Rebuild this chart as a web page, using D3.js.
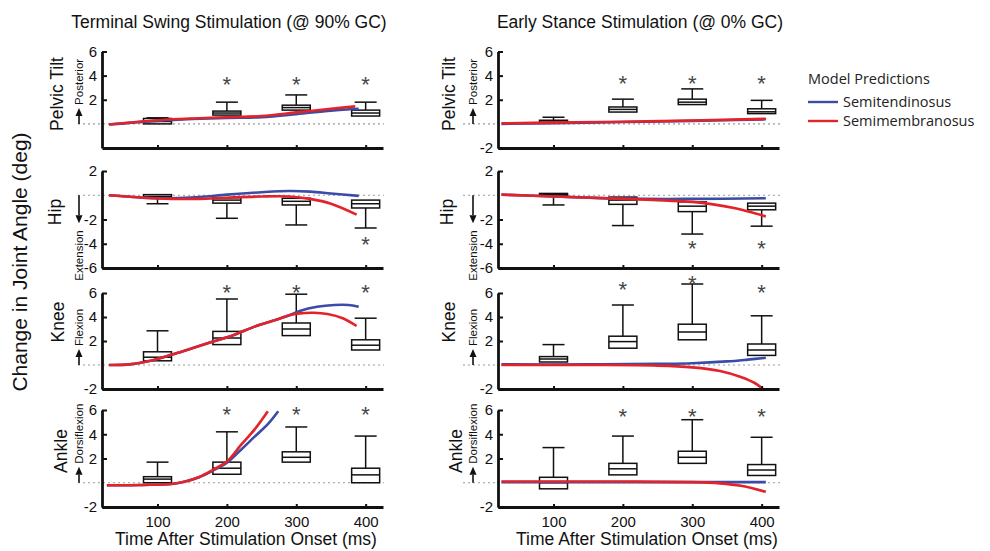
<!DOCTYPE html>
<html>
<head>
<meta charset="utf-8">
<script src="https://cdn.jsdelivr.net/npm/d3@7"></script>
<style>
  body { margin: 0; background: #fff; }
  svg { display: block; font-family: Arial, "Liberation Sans", sans-serif; }
</style>
</head>
<body>
<div id="chart"></div>
<script>
const times = [100, 200, 300, 400];
const joints = ['Pelvic Tilt', 'Hip', 'Knee', 'Ankle'];
const directions = ['Posterior', 'Extension', 'Flexion', 'Dorsiflexion'];
const columnTitles = ['Terminal Swing Stimulation (@ 90% GC)', 'Early Stance Stimulation (@ 0% GC)'];
const seriesNames = ['Semitendinosus', 'Semimembranosus'];
const yDomains = [[-2, 6], [-6, 2], [-2, 6], [-2, 6]];
const swingYTicks = [[2, 4, 6], [-6, -4, -2, 2], [-2, 2, 4, 6], [-2, 2, 4, 6]];
const stanceYTicks = [[-2, 2, 4, 6], [-6, -4, -2, 2], [-2, 2, 4, 6], [-2, 2, 4, 6]];

// experimental boxes, per joint, per time: [q1, median, q3, whisker end]
const swingBoxes = [
  [[0.0, 0.2, 0.45, 0.5], [0.73, 0.9, 1.06, 1.8], [1.14, 1.35, 1.55, 2.4], [0.65, 0.9, 1.14, 1.8]],
  [[-0.25, -0.1, 0.05, -0.7], [-0.65, -0.4, -0.2, -1.9], [-0.8, -0.5, -0.25, -2.45], [-1.05, -0.7, -0.4, -2.7]],
  [[0.35, 0.65, 1.1, 2.85], [1.7, 2.25, 2.8, 5.5], [2.45, 3.0, 3.5, 5.9], [1.25, 1.65, 2.1, 3.9]],
  [[0.0, 0.3, 0.5, 1.7], [0.7, 1.2, 1.7, 4.2], [1.7, 2.1, 2.55, 4.6], [0.0, 0.65, 1.2, 3.85]]
];
const stanceBoxes = [
  [[0.05, 0.15, 0.3, 0.55], [0.98, 1.2, 1.4, 2.05], [1.6, 1.8, 2.05, 2.9], [0.85, 1.0, 1.25, 1.95]],
  [[-0.05, 0.05, 0.15, -0.8], [-0.75, -0.4, -0.15, -2.5], [-1.35, -0.9, -0.55, -3.2], [-1.2, -0.9, -0.65, -2.55]],
  [[0.25, 0.5, 0.7, 1.7], [1.4, 1.95, 2.4, 5.0], [2.1, 2.75, 3.4, 6.75], [0.8, 1.25, 1.75, 4.1]],
  [[-0.5, 0.0, 0.45, 2.9], [0.65, 1.15, 1.6, 3.85], [1.6, 2.1, 2.6, 5.2], [0.6, 1.05, 1.5, 3.75]]
];

// significance markers: [time, value]
const swingStars = [
  [[200, 3.7], [300, 3.7], [400, 3.7]],
  [[400, -3.6]],
  [[200, 6.5], [300, 6.5], [400, 6.5]],
  [[200, 6.05], [300, 6.05], [400, 6.05]]
];
const stanceStars = [
  [[200, 3.8], [300, 3.8], [400, 3.8]],
  [[300, -3.95], [400, -3.95]],
  [[200, 6.75], [300, 7.2], [400, 6.5]],
  [[200, 5.9], [300, 5.9], [400, 5.9]]
];

// model predictions: [time ms, change deg]
const swingST = [
  [[30, -0.05], [100, 0.25], [150, 0.4], [200, 0.5], [250, 0.55], [300, 0.8], [350, 1.1], [390, 1.25]],
  [[30, 0], [80, -0.2], [120, -0.25], [160, -0.15], [200, 0.05], [250, 0.25], [290, 0.35], [320, 0.3], [350, 0.15], [390, -0.05]],
  [[30, 0], [60, 0.05], [90, 0.35], [120, 0.85], [150, 1.4], [180, 1.95], [210, 2.5], [240, 3.2], [270, 3.75], [290, 4.15], [305, 4.5], [330, 4.85], [355, 5.0], [375, 5.0], [390, 4.85]],
  [[27, -0.2], [80, -0.18], [120, -0.1], [140, 0.1], [160, 0.45], [180, 1.0], [200, 1.65], [220, 2.7], [240, 3.8], [260, 4.9], [274, 5.9]]
];
const swingSM = [
  [[30, -0.05], [100, 0.3], [150, 0.45], [200, 0.55], [250, 0.65], [300, 0.95], [350, 1.25], [385, 1.45]],
  [[30, 0], [80, -0.2], [120, -0.3], [160, -0.3], [200, -0.2], [250, -0.1], [290, -0.1], [320, -0.3], [350, -0.7], [387, -1.6]],
  [[30, 0], [60, 0.05], [90, 0.35], [120, 0.85], [150, 1.4], [180, 1.95], [210, 2.5], [240, 3.2], [270, 3.75], [290, 4.15], [305, 4.3], [325, 4.35], [345, 4.25], [367, 3.9], [387, 3.25]],
  [[27, -0.2], [80, -0.18], [120, -0.1], [140, 0.1], [160, 0.47], [180, 1.07], [200, 1.75], [220, 3.1], [240, 4.4], [259, 5.9]]
];
const stanceST = [
  [[25, 0], [100, 0.05], [200, 0.15], [300, 0.25], [406, 0.38]],
  [[25, 0.05], [100, -0.1], [200, -0.28], [300, -0.3], [406, -0.25]],
  [[25, 0.05], [150, 0.05], [250, 0.1], [300, 0.15], [350, 0.3], [380, 0.45], [406, 0.6]],
  [[25, 0.05], [200, 0.05], [300, 0.05], [406, 0.05]]
];
const stanceSM = [
  [[25, 0.05], [100, 0.1], [200, 0.18], [300, 0.28], [406, 0.42]],
  [[25, 0.05], [100, -0.1], [200, -0.3], [250, -0.4], [300, -0.55], [330, -0.75], [360, -1.05], [385, -1.4], [406, -1.75]],
  [[25, 0], [150, 0], [250, -0.05], [300, -0.2], [340, -0.5], [370, -1.0], [390, -1.5], [401, -1.95]],
  [[25, 0.1], [200, 0.1], [300, 0.05], [340, -0.05], [370, -0.25], [406, -0.75]]
];

const W = 990, H = 551;
const blue = '#3a4ca6', red = '#e3232a';

const svg = d3.select('#chart').append('svg')
  .attr('width', W).attr('height', H);

const cols = [
  { x0: 102, x1: 383, dashX0: 78, rowLabelX: [63, 61, 64, 67], dirX: 79, titleX: 229, xTitleX: 246,
    boxes: swingBoxes, stars: swingStars, st: swingST, sm: swingSM, yTicks: swingYTicks },
  { x0: 498, x1: 779, dashX0: 463, rowLabelX: [455, 453, 455, 462], dirX: 473, titleX: 640, xTitleX: 647,
    boxes: stanceBoxes, stars: stanceStars, st: stanceST, sm: stanceSM, yTicks: stanceYTicks }
];
const rowRanges = [[148, 51.5], [268, 171], [389, 293], [507, 410]];
const rowLabelY = [94, 212, 322, 451];

function drawPanel(c, r) {
  const col = cols[c];
  const x = d3.scaleLinear().domain([20, 425]).range([col.x0, col.x1]);
  const y = d3.scaleLinear().domain(yDomains[r]).range(rowRanges[r]);
  const g = svg.append('g');
  const zeroY = y(0);

  // zero reference
  g.append('line')
    .attr('x1', col.dashX0).attr('x2', col.x1 + 1)
    .attr('y1', zeroY).attr('y2', zeroY)
    .attr('stroke', '#9a9a9a').attr('stroke-width', 1.2)
    .attr('stroke-dasharray', '2,3');

  // boxes
  const bw = 28, cw = 22;
  col.boxes[r].forEach((b, i) => {
    const cx = x(times[i]);
    const [q1, med, q3, wh] = b;
    const from = wh > q3 ? q3 : q1;
    g.append('line')
      .attr('x1', cx).attr('x2', cx).attr('y1', y(from)).attr('y2', y(wh))
      .attr('stroke', '#111').attr('stroke-width', 1.5);
    g.append('line')
      .attr('x1', cx - cw / 2).attr('x2', cx + cw / 2).attr('y1', y(wh)).attr('y2', y(wh))
      .attr('stroke', '#111').attr('stroke-width', 1.5);
    g.append('rect')
      .attr('x', cx - bw / 2).attr('width', bw)
      .attr('y', y(q3)).attr('height', y(q1) - y(q3))
      .attr('fill', '#fff').attr('stroke', '#111').attr('stroke-width', 1.5);
    g.append('line')
      .attr('x1', cx - bw / 2).attr('x2', cx + bw / 2).attr('y1', y(med)).attr('y2', y(med))
      .attr('stroke', '#111').attr('stroke-width', 1.5);
  });

  // stars
  const fs = 22;
  g.selectAll('text.star').data(col.stars[r]).join('text')
    .attr('class', 'star')
    .attr('x', d => x(d[0]))
    .attr('y', d => y(d[1]) + fs * 0.58)
    .attr('text-anchor', 'middle')
    .attr('font-size', fs)
    .attr('fill', '#444')
    .text('*');

  // model lines
  const line = d3.line()
    .x(d => x(d[0])).y(d => y(d[1]))
    .curve(d3.curveCatmullRom.alpha(0.5));
  g.append('path').attr('d', line(col.st[r]))
    .attr('fill', 'none').attr('stroke', blue).attr('stroke-width', 2.6);
  g.append('path').attr('d', line(col.sm[r]))
    .attr('fill', 'none').attr('stroke', red).attr('stroke-width', 2.6);

  // axes
  const yAxis = g.append('g')
    .attr('transform', `translate(${col.x0},0)`)
    .call(d3.axisLeft(y).tickValues(col.yTicks[r]).tickSizeInner(-5).tickSizeOuter(0).tickPadding(5)
      .tickFormat(d => d));
  const xAxis = g.append('g')
    .attr('transform', `translate(0,${rowRanges[r][0]})`)
    .call(d3.axisBottom(x).tickValues(times).tickSizeInner(-3).tickSizeOuter(0).tickPadding(9)
      .tickFormat(r === 3 ? d => d : ''));
  [yAxis, xAxis].forEach(a => {
    a.select('.domain').attr('stroke', '#111').attr('stroke-width', 2.8);
    a.selectAll('.tick line').attr('stroke', '#111').attr('stroke-width', 2);
    a.selectAll('text').attr('font-size', 15).attr('fill', '#111')
      .attr('font-family', 'Arial, "Liberation Sans", sans-serif');
  });

  // row label
  g.append('text')
    .attr('transform', `translate(${col.rowLabelX[r]},${rowLabelY[r]}) rotate(-90)`)
    .attr('text-anchor', 'middle')
    .attr('font-size', 17.5)
    .attr('fill', '#111')
    .text(joints[r]);

  // direction arrow and label
  const down = r === 1;
  const tip = down ? zeroY + 28 : zeroY - 16;
  const shaftEnd = down ? tip - 8 : tip + 8;
  g.append('line')
    .attr('x1', col.dirX).attr('x2', col.dirX).attr('y1', zeroY).attr('y2', shaftEnd)
    .attr('stroke', '#111').attr('stroke-width', 1.6);
  g.append('path')
    .attr('d', `M${col.dirX},${tip}L${col.dirX - 3.5},${shaftEnd}L${col.dirX + 3.5},${shaftEnd}Z`)
    .attr('fill', '#111');
  g.append('text')
    .attr('transform', `translate(${col.dirX + 4},${down ? zeroY + 35 : zeroY - 19}) rotate(-90)`)
    .attr('text-anchor', down ? 'end' : 'start')
    .attr('font-size', 11.5)
    .attr('fill', '#111')
    .text(directions[r]);
}

for (let c = 0; c < 2; c++) {
  for (let r = 0; r < 4; r++) drawPanel(c, r);
  svg.append('text')
    .attr('x', cols[c].titleX).attr('y', 28)
    .attr('text-anchor', 'middle')
    .attr('font-size', 17.5).attr('fill', '#111')
    .text(columnTitles[c]);
  svg.append('text')
    .attr('x', cols[c].xTitleX).attr('y', 545)
    .attr('text-anchor', 'middle')
    .attr('font-size', 17.5).attr('fill', '#111')
    .text('Time After Stimulation Onset (ms)');
}

svg.append('text')
  .attr('transform', 'translate(27,262) rotate(-90)')
  .attr('text-anchor', 'middle')
  .attr('font-size', 21).attr('fill', '#111')
  .text('Change in Joint Angle (deg)');

// legend
const legend = svg.append('g').attr('font-family', '"Open Sans", sans-serif');
legend.append('text')
  .attr('x', 808).attr('y', 84)
  .attr('font-size', 14.5).attr('fill', '#222')
  .text('Model Predictions');
[blue, red].forEach((color, i) => {
  const ly = 102 + i * 19;
  legend.append('line')
    .attr('x1', 808).attr('x2', 838).attr('y1', ly).attr('y2', ly)
    .attr('stroke', color).attr('stroke-width', 2.4);
  legend.append('text')
    .attr('x', 843).attr('y', ly + 5)
    .attr('font-size', 14.5).attr('fill', '#222')
    .text(seriesNames[i]);
});
</script>
</body>
</html>
